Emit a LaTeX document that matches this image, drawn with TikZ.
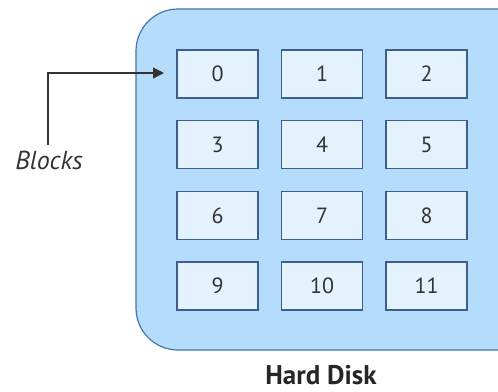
\documentclass[tikz,border=0pt]{standalone}
\usepackage{fontspec}
\setmainfont{PT Sans}
\usetikzlibrary{arrows.meta}
\definecolor{diskfill}{HTML}{B5DCFA}
\definecolor{diskline}{HTML}{4675A8}
\definecolor{blkfill}{HTML}{E4F2FD}
\definecolor{blkline}{HTML}{3C5F8E}
\definecolor{txt}{HTML}{333333}
\tikzset{
  disk/.style={draw=diskline, fill=diskfill, line width=1.2pt, rounded corners=42pt},
  blockbox/.style={draw=blkline, fill=blkfill, line width=1.3pt, minimum width=81pt, minimum height=48pt, inner sep=0pt, font=\fontsize{22}{22}\selectfont, text=txt},
  lbl/.style={font=\fontsize{26}{26}\selectfont\itshape, text=txt, inner sep=0pt},
  title/.style={font=\fontsize{27}{27}\selectfont\bfseries, text=black!85, inner sep=0pt},
  conn/.style={draw=black!80, line width=1.2pt, -{Triangle[length=11pt,width=11pt]}}
}
\begin{document}
\begin{tikzpicture}[x=1pt,y=-1pt]
\useasboundingbox (0,0) rectangle (498,391);
\draw[disk] (136,9) rectangle (540,350);
\foreach \n/\c/\r in {0/0/0,1/1/0,2/2/0,3/0/1,4/1/1,5/2/1,6/0/2,7/1/2,8/2/2,9/0/3,10/1/3,11/2/3}{
  \node[blockbox] (b\n) at ({217.5+104.5*\c},{74+70.7*\r}) {\n};
}
\node[lbl] (blocks) at (49,160) {Blocks};
\node[title, anchor=base] (hd) at (321,384) {Hard Disk};
\coordinate (start) at (48,145);
\coordinate (tip) at (164,73);
\draw[conn] (start) |- (tip);
\end{tikzpicture}
\end{document}
